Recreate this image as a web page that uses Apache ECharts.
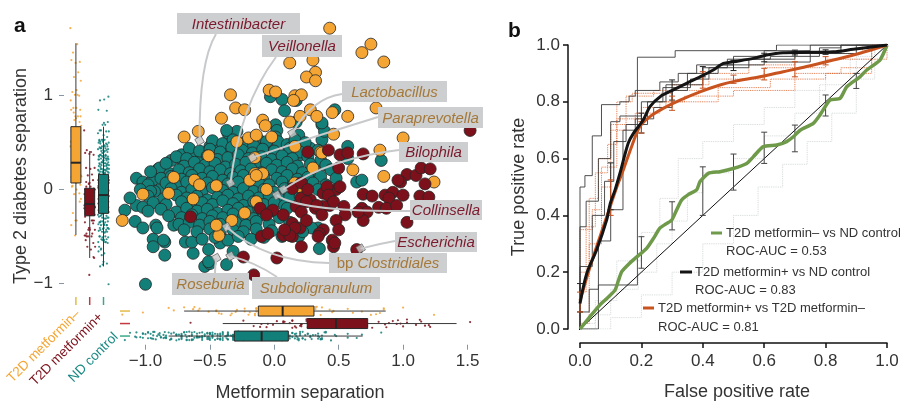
<!DOCTYPE html>
<html>
<head>
<meta charset="utf-8">
<script src="https://cdn.jsdelivr.net/npm/echarts@6/dist/echarts.min.js"></script>
<style>
html, body { margin: 0; padding: 0; background: #fff; }
#main { width: 906px; height: 401px; }
</style>
</head>
<body>
<div id="main"></div>
<script>
// ---- panel a data (metformin separation, T2D separation) ----
var groups = ['T2D metformin–', 'T2D metformin+', 'ND control'];

var orangePts = [
  [0.43,1.72],[0.75,1.55],[0.68,1.46],[0.85,1.36],[0.12,1.35],[0.30,1.38],[0.32,1.25],[0.25,1.20],
  [0.32,1.16],[-0.04,1.06],[0.01,1.04],[0.16,1.00],[0.21,1.01],[0.15,0.95],[-0.34,1.01],[-0.30,0.87],
  [-0.23,0.85],[-0.41,0.76],[-0.59,0.62],[-0.70,0.56],[-0.09,0.74],[-0.07,0.68],[-0.20,0.55],[-0.14,0.58],
  [0.12,0.72],[0.20,0.78],[0.28,0.85],[0.33,0.78],[0.45,0.82],[0.57,0.78],[0.79,0.87],[0.46,0.59],
  [1.00,0.55],[0.82,0.42],[0.16,0.46],[0.36,0.40],[-0.51,0.36],[-0.02,0.56],[-0.15,0.34],
  [-0.78,0.13],[-0.62,0.10],[-1.02,-0.05],[-0.63,-0.10],[-1.18,-0.33],[-0.45,0.04],[-0.82,-0.04],
  [-0.43,-0.49],[-0.29,0.51],[-0.15,0.17],[-0.09,0.17],[-0.58,0.05],[0.16,0.07],[0.19,0.03],
  [0.37,0.39],[0.61,0.21],[0.85,0.14],[1.24,0.08],[-0.23,-0.25],[-0.14,-0.13],[-0.33,-0.33],
  [-0.45,-0.38],[0.30,0.23],[-0.19,0.10],[-0.14,0.15],[-0.06,0.00]
];

var redPts = [
  [1.52,0.63],[0.26,0.40],[0.42,0.42],[0.51,0.37],[0.69,0.38],[0.57,0.39],
  [1.03,0.16],[1.10,0.15],[1.14,0.23],[1.21,0.22],[0.98,0.08],[0.96,0.10],[1.17,0.06],[0.69,-0.05],
  [0.76,-0.07],[0.86,-0.06],[0.92,-0.03],[1.00,-0.06],[0.89,-0.09],[1.13,-0.07],[1.20,-0.08],
  [0.81,-0.19],[0.87,-0.20],[0.95,-0.17],[0.68,-0.20],[0.72,-0.24],[1.03,-0.35],[0.69,-0.33],
  [0.65,-0.24],[0.54,-0.18],[0.55,-0.27],[0.43,-0.17],[0.38,-0.18],[0.28,-0.11],[0.32,-0.20],
  [0.17,-0.18],[0.21,-0.09],[0.14,0.01],[0.21,0.07],[0.26,0.00],[0.38,-0.04],[0.43,-0.06],
  [0.48,0.00],[0.41,0.03],[0.51,0.03],[0.14,-0.36],[0.20,-0.41],[0.07,-0.49],[0.14,-0.50],
  [0.21,-0.61],[0.02,-0.73],[0.38,-0.43],[0.45,-0.54],[0.48,-0.33],[0.50,-0.43],[0.46,-0.61],
  [0.64,-0.64],[-0.10,-0.50],[-0.24,-0.72],[-0.16,-0.91],[-0.65,-0.29],[0.25,-0.13],[-0.01,-0.22],
  [0.07,-0.27],[-0.11,-0.20],[0.50,0.23],[0.42,-0.06],[0.46,-0.13],[0.33,-0.17],[0.37,-0.27],
  [0.21,-0.24],[0.25,-0.33],[0.16,-0.41],[0.12,-0.49],[0.35,-0.47],[0.34,-0.50],[0.08,-0.43],
  [-0.06,-0.27],[-0.05,-0.47],[0.47,-0.57]
];

var tealOuter = [
  [-0.36,0.60],[-0.50,0.46],[-0.42,0.44],[-0.36,0.46],[-0.80,0.31],[-0.72,0.32],[-0.62,0.36],[-0.59,0.29],
  [-0.03,0.99],[0.06,0.96],[0.17,0.95],[0.08,0.84],[0.37,0.69],[0.47,0.85],[0.01,0.69],[0.02,0.63],
  [0.17,0.72],[0.19,0.58],[0.37,0.53],[0.39,0.62],[0.57,0.46],[-0.29,0.62],[-0.12,0.53],[-0.06,0.49],
  [0.01,0.56],[0.03,0.51],[0.08,0.36],[0.20,0.37],[0.28,0.44],[0.57,0.33],[0.37,0.71],[-0.37,0.63],
  [0.83,0.31],[0.64,0.08],[0.68,0.10],[-1.16,-0.22],[-1.08,-0.34],[-1.02,-0.41],[-0.94,-0.53],
  [-0.94,-0.61],[-0.85,-0.56],[-0.85,-0.70],[-1.00,-1.01],[-0.63,-0.68],[-0.54,-0.82],[-0.50,-0.79],
  [-0.37,-0.80],[-0.32,-0.66],[0.19,-0.50],[0.35,-0.63],[0.34,-0.41],[0.29,-0.41],[0.06,-0.50],
  [-1.07,0.12],[-1.02,0.08],[-0.90,0.22],[-0.81,0.17],[-0.72,0.37],[-0.89,0.23],[-0.95,0.09],
  [-0.89,0.00],[-0.93,-0.02],[-1.07,-0.17],[-1.02,-0.19],[-0.92,-0.38],[-0.91,-0.41],[-0.78,-0.38],
  [-0.86,-0.54],[-0.69,-0.56],[-0.64,-0.56],[-0.51,-0.64],[-0.42,-0.57],[-0.51,-0.77]
];

// dense core of the ND control cloud
var tealCore = [
  [-0.48,0.52],[-0.40,0.49],[-0.32,0.53],[-0.24,0.50],[-0.16,0.47],[-0.06,0.51],[0.10,0.48],[0.16,0.53],[0.24,0.50],
  [-0.66,0.44],[-0.58,0.41],[-0.50,0.43],[-0.42,0.40],[-0.33,0.45],[-0.25,0.42],[-0.17,0.39],[-0.09,0.43],[0.00,0.41],[0.12,0.44],[0.20,0.40],[0.34,0.42],
  [-0.76,0.35],[-0.68,0.33],[-0.52,0.36],[-0.44,0.32],[-0.36,0.34],[-0.28,0.37],[-0.20,0.33],[-0.10,0.35],[-0.02,0.32],[0.06,0.36],[0.14,0.33],[0.26,0.35],[0.36,0.31],
  [-0.84,0.28],[-0.70,0.25],[-0.62,0.29],[-0.54,0.26],[-0.46,0.28],[-0.38,0.24],[-0.30,0.27],[-0.22,0.29],[-0.14,0.25],[-0.06,0.28],[0.02,0.26],[0.10,0.29],[0.18,0.25],[0.28,0.27],[0.40,0.26],
  [-0.96,0.19],[-0.74,0.21],[-0.66,0.18],[-0.58,0.22],[-0.50,0.19],[-0.42,0.21],[-0.34,0.17],[-0.26,0.20],[-0.18,0.22],[-0.10,0.18],[-0.02,0.21],[0.06,0.19],[0.14,0.22],[0.22,0.18],[0.32,0.20],[0.44,0.21],
  [-0.88,0.12],[-0.80,0.14],[-0.72,0.11],[-0.64,0.15],[-0.56,0.12],[-0.48,0.14],[-0.40,0.10],[-0.32,0.13],[-0.24,0.15],[-0.16,0.11],[-0.08,0.14],[0.02,0.12],[0.10,0.15],[0.18,0.11],[0.26,0.13],[0.36,0.14],[0.48,0.12],
  [-0.98,0.05],[-0.84,0.07],[-0.76,0.04],[-0.68,0.08],[-0.60,0.05],[-0.52,0.07],[-0.44,0.03],[-0.36,0.06],[-0.28,0.08],[-0.20,0.04],[-0.12,0.07],[-0.04,0.05],[0.06,0.08],[0.14,0.04],[0.22,0.06],[0.30,0.07],[0.40,0.05],
  [-1.04,0.00],[-0.96,-0.02],[-0.80,0.01],[-0.72,-0.03],[-0.64,0.00],[-0.56,-0.02],[-0.48,0.02],[-0.40,-0.01],[-0.32,-0.03],[-0.24,0.01],[-0.16,-0.02],[-0.08,0.00],[0.00,-0.03],[0.08,0.01],[0.16,-0.01],[0.24,-0.02],[0.34,0.00],
  [-1.12,-0.09],[-0.98,-0.07],[-0.86,-0.10],[-0.76,-0.06],[-0.68,-0.09],[-0.60,-0.07],[-0.52,-0.11],[-0.44,-0.08],[-0.36,-0.06],[-0.28,-0.10],[-0.20,-0.07],[-0.12,-0.09],[-0.04,-0.06],[0.04,-0.10],[0.12,-0.08],[0.20,-0.07],
  [-0.94,-0.14],[-0.84,-0.16],[-0.72,-0.13],[-0.64,-0.17],[-0.56,-0.14],[-0.48,-0.16],[-0.40,-0.12],[-0.32,-0.15],[-0.24,-0.17],[-0.16,-0.13],[-0.08,-0.16],[0.00,-0.14],[0.08,-0.17],
  [-0.98,-0.23],[-0.88,-0.21],[-0.76,-0.24],[-0.68,-0.20],[-0.60,-0.23],[-0.52,-0.21],[-0.44,-0.25],[-0.36,-0.22],[-0.28,-0.20],[-0.20,-0.24],[-0.12,-0.21],[-0.02,-0.23],[0.10,-0.20],
  [-0.82,-0.28],[-0.72,-0.30],[-0.64,-0.27],[-0.56,-0.31],[-0.48,-0.28],[-0.40,-0.30],[-0.32,-0.26],[-0.24,-0.29],[-0.16,-0.31],[-0.08,-0.27],[0.04,-0.30],
  [-0.74,-0.37],[-0.66,-0.35],[-0.58,-0.38],[-0.50,-0.34],[-0.42,-0.37],[-0.30,-0.35],[-0.22,-0.38],[-0.14,-0.34],[-0.04,-0.37],[0.12,-0.35],
  [-0.70,-0.43],[-0.60,-0.45],[-0.50,-0.42],[-0.42,-0.46],[-0.32,-0.43],[-0.24,-0.45],[-0.14,-0.42],[-0.02,-0.44],[0.22,-0.45],
  [-0.56,-0.53],[-0.46,-0.51],[-0.36,-0.54],[-0.28,-0.50],[-0.18,-0.53],[-0.08,-0.51]
];

// box plots: [min, q1, median, q3, max]
var vertBox = [[-0.485,0.07,0.286,0.67,1.56], [-0.73,-0.28,-0.155,0.013,0.41], [-0.82,-0.254,-0.059,0.162,0.67]];
var horizBox = [[-0.70,-0.124,0.065,0.308,0.865], [-0.40,0.256,0.479,0.725,1.415], [-0.82,-0.31,-0.098,0.109,0.686]];

var genera = [
  {name:'Intestinibacter', x:-0.58, y:0.52, c:1},
  {name:'Veillonella', x:-0.34, y:0.07, c:1},
  {name:'Lactobacillus', x:0.14, y:0.60, c:0},
  {name:'Paraprevotella', x:-0.17, y:0.34, c:0},
  {name:'Bilophila', x:0.07, y:0.00, c:1},
  {name:'Collinsella', x:0.02, y:-0.06, c:1},
  {name:'Escherichia', x:0.67, y:-0.63, c:1},
  {name:'bp Clostridiales', x:-0.37, y:-0.40, c:0},
  {name:'Roseburia', x:-0.45, y:-0.73, c:0},
  {name:'Subdoligranulum', x:-0.34, y:-0.71, c:0}
];

var xTicksA = [-1, -0.5, 0, 0.5, 1, 1.5];
var yTicksA = [-1, 0, 1];

// ---- panel b data (ROC) ----
var rocGreen = [[0,0],[0.03,0.04],[0.065,0.085],[0.09,0.11],[0.114,0.137],[0.125,0.17],[0.136,0.202],[0.16,0.23],
  [0.185,0.254],[0.217,0.284],[0.24,0.32],[0.26,0.355],[0.28,0.37],[0.299,0.384],[0.315,0.42],[0.331,0.454],
  [0.355,0.475],[0.38,0.49],[0.391,0.519],[0.418,0.548],[0.456,0.554],[0.499,0.565],[0.543,0.583],[0.565,0.607],
  [0.597,0.642],[0.641,0.648],[0.673,0.66],[0.695,0.677],[0.717,0.70],[0.76,0.724],[0.782,0.754],[0.814,0.806],
  [0.847,0.812],[0.869,0.853],[0.912,0.888],[0.934,0.912],[0.977,0.947],[1,1]];
var rocBlack = [[0,0.09],[0.022,0.196],[0.054,0.278],[0.087,0.384],[0.098,0.44],[0.114,0.489],[0.13,0.548],
  [0.157,0.654],[0.174,0.689],[0.206,0.736],[0.228,0.783],[0.261,0.818],[0.304,0.842],[0.347,0.865],[0.391,0.888],
  [0.434,0.912],[0.467,0.935],[0.499,0.941],[0.565,0.953],[0.608,0.965],[0.662,0.973],[0.717,0.974],[0.825,0.976],
  [0.89,0.985],[1,1]];
var rocOrange = [[0,0.10],[0.033,0.22],[0.065,0.325],[0.098,0.43],[0.12,0.5],[0.141,0.56],[0.168,0.642],
  [0.195,0.713],[0.228,0.748],[0.271,0.777],[0.326,0.806],[0.391,0.835],[0.456,0.859],[0.499,0.871],[0.586,0.888],
  [0.662,0.906],[0.738,0.924],[0.825,0.947],[0.912,0.971],[1,1]];
var rocDiag = [[-0.045,-0.045],[1.04,1.04]];

var foldsBlack = [
  [[0,0],[0,0.5],[0.016,0.5],[0.016,0.54],[0.04,0.54],[0.04,0.68],[0.07,0.68],[0.07,0.79],[0.13,0.79],[0.13,0.8],[0.16,0.8],[0.16,0.82],[0.18,0.82],[0.18,0.84],[0.26,0.84],[0.26,0.87],[0.32,0.87],[0.32,0.9],[0.38,0.9],[0.38,0.93],[0.5,0.93],[0.5,0.96],[0.6,0.96],[0.6,0.98],[0.75,0.98],[0.75,1],[1,1]],
  [[0,0],[0,0.36],[0.02,0.36],[0.02,0.45],[0.06,0.45],[0.06,0.6],[0.1,0.6],[0.1,0.73],[0.13,0.73],[0.13,0.75],[0.2,0.75],[0.2,0.8],[0.27,0.8],[0.27,0.85],[0.36,0.85],[0.36,0.88],[0.42,0.88],[0.42,0.92],[0.55,0.92],[0.55,0.95],[0.7,0.95],[0.7,0.97],[0.85,0.97],[0.85,1],[1,1]],
  [[0,0],[0,0.06],[0.03,0.06],[0.03,0.14],[0.06,0.14],[0.06,0.31],[0.1,0.31],[0.1,0.42],[0.14,0.42],[0.14,0.7],[0.18,0.7],[0.18,0.74],[0.24,0.74],[0.24,0.78],[0.3,0.78],[0.3,0.84],[0.35,0.84],[0.35,0.9],[0.45,0.9],[0.45,0.93],[0.6,0.93],[0.6,0.94],[0.75,0.94],[0.75,0.97],[0.9,0.97],[0.9,1],[1,1]],
  [[0,0],[0,0.22],[0.04,0.22],[0.04,0.4],[0.08,0.4],[0.08,0.52],[0.11,0.52],[0.11,0.66],[0.15,0.66],[0.15,0.72],[0.22,0.72],[0.22,0.8],[0.28,0.8],[0.28,0.86],[0.4,0.86],[0.4,0.92],[0.48,0.92],[0.48,0.95],[0.62,0.95],[0.62,0.96],[0.78,0.96],[0.78,0.99],[0.85,0.99],[0.85,1],[1,1]],
  [[0,0],[0.06,0],[0.06,0.155],[0.187,0.155],[0.187,0.957],[0.31,0.957],[0.31,0.98],[0.64,0.98],[0.64,1],[1,1]]
];
var foldsOrange = [
  [[0,0],[0,0.13],[0.02,0.13],[0.02,0.36],[0.05,0.36],[0.05,0.55],[0.09,0.55],[0.09,0.65],[0.12,0.65],[0.12,0.8],[0.17,0.8],[0.17,0.83],[0.3,0.83],[0.3,0.86],[0.42,0.86],[0.42,0.88],[0.6,0.88],[0.6,0.92],[0.8,0.92],[0.8,0.95],[1,0.95],[1,1]],
  [[0,0],[0,0.02],[0.03,0.02],[0.03,0.3],[0.07,0.3],[0.07,0.5],[0.1,0.5],[0.1,0.72],[0.18,0.72],[0.18,0.76],[0.26,0.76],[0.26,0.8],[0.34,0.8],[0.34,0.82],[0.5,0.82],[0.5,0.84],[0.7,0.84],[0.7,0.9],[0.85,0.9],[0.85,0.92],[0.95,0.92],[0.95,1],[1,1]],
  [[0,0],[0,0.2],[0.03,0.2],[0.03,0.46],[0.06,0.46],[0.06,0.6],[0.1,0.6],[0.1,0.7],[0.15,0.7],[0.15,0.82],[0.24,0.82],[0.24,0.84],[0.4,0.84],[0.4,0.9],[0.55,0.9],[0.55,0.93],[0.7,0.93],[0.7,0.97],[0.92,0.97],[0.92,1],[1,1]],
  [[0,0],[0,0.35],[0.04,0.35],[0.04,0.42],[0.07,0.42],[0.07,0.57],[0.12,0.57],[0.12,0.74],[0.2,0.74],[0.2,0.78],[0.28,0.78],[0.28,0.8],[0.45,0.8],[0.45,0.85],[0.62,0.85],[0.62,0.88],[0.8,0.88],[0.8,0.9],[0.95,0.9],[0.95,1],[1,1]]
];
var foldsGrey = [
  [[0,0],[0,0.02],[0.05,0.02],[0.05,0.05],[0.1,0.05],[0.1,0.14],[0.19,0.14],[0.19,0.2],[0.25,0.2],[0.25,0.3],[0.3,0.3],[0.3,0.38],[0.35,0.38],[0.35,0.48],[0.4,0.48],[0.4,0.55],[0.5,0.55],[0.5,0.6],[0.6,0.6],[0.6,0.68],[0.7,0.68],[0.7,0.76],[0.78,0.76],[0.78,0.86],[0.88,0.86],[0.88,0.95],[0.95,0.95],[0.95,1],[1,1]],
  [[0,0],[0.05,0],[0.05,0.1],[0.12,0.1],[0.12,0.24],[0.2,0.24],[0.2,0.34],[0.26,0.34],[0.26,0.46],[0.32,0.46],[0.32,0.6],[0.4,0.6],[0.4,0.66],[0.5,0.66],[0.5,0.72],[0.6,0.72],[0.6,0.78],[0.7,0.78],[0.7,0.84],[0.8,0.84],[0.8,0.9],[0.9,0.9],[0.9,0.96],[0.96,0.96],[0.96,1],[1,1]],
  [[0,0],[0.1,0],[0.1,0.04],[0.2,0.04],[0.2,0.12],[0.3,0.12],[0.3,0.2],[0.4,0.2],[0.4,0.3],[0.5,0.3],[0.5,0.4],[0.58,0.4],[0.58,0.5],[0.66,0.5],[0.66,0.58],[0.74,0.58],[0.74,0.66],[0.82,0.66],[0.82,0.76],[0.9,0.76],[0.9,0.88],[0.96,0.88],[0.96,1],[1,1]]
];

// error bars: [fpr, low, high]
var errGreen = [[0.2,0.214,0.325],[0.3,0.349,0.448],[0.4,0.40,0.571],[0.5,0.489,0.616],[0.6,0.583,0.693],[0.7,0.624,0.718],[0.8,0.75,0.824],[0.9,0.847,0.90]];
var errBlack = [[0,0.06,0.16],[0.1,0.42,0.585],[0.2,0.69,0.76],[0.3,0.806,0.877],[0.4,0.888,0.924],[0.5,0.91,0.946],[0.6,0.941,0.971],[0.7,0.965,0.982],[0.8,0.967,0.983]];
var errOrange = [[0,0.06,0.13],[0.1,0.40,0.525],[0.2,0.69,0.73],[0.3,0.77,0.82],[0.4,0.848,0.906],[0.5,0.865,0.894],[0.6,0.877,0.918],[0.7,0.888,0.941],[0.8,0.93,0.959]];

// ---------------------------------------------------------------
var FONT = 'Liberation Sans, Arial, sans-serif';
var COL = ['#f4a534', '#7c111b', '#137f79'];
var TICK = ['#e3bb48', '#c23a40', '#3aa98a'];
var GOLD = '#a5793a', WINE = '#7b1a2d';

var tealPts = tealOuter.concat(tealCore);
var groupPts = [orangePts, redPts, tealPts];

function minus(s) { return String(s).replace('-', '−'); }
function jit(k) { return ((k * 0.6180339) % 1) - 0.5; }

var chart = echarts.init(document.getElementById('main'));

function boxItem(horizontal) {
  return function (params, api) {
    var i = api.value(0);
    var pt = function (v) { return horizontal ? api.coord([v, i]) : api.coord([i, v]); };
    var a = pt(api.value(1)), b = pt(api.value(2)), m = pt(api.value(3)), c = pt(api.value(4)), d = pt(api.value(5));
    var h = 5, kids = [];
    kids.push({type:'line', shape:{x1:a[0], y1:a[1], x2:d[0], y2:d[1]}, style:{stroke:'#3a3a3a', lineWidth:1}});
    if (horizontal) {
      kids.push({type:'rect', shape:{x:b[0], y:b[1]-h, width:c[0]-b[0], height:2*h}, style:{fill:COL[i], stroke:'#262626', lineWidth:1}});
      kids.push({type:'line', shape:{x1:m[0], y1:m[1]-h, x2:m[0], y2:m[1]+h}, style:{stroke:'#262626', lineWidth:2}});
    } else {
      kids.push({type:'rect', shape:{x:b[0]-h, y:c[1], width:2*h, height:b[1]-c[1]}, style:{fill:COL[i], stroke:'#262626', lineWidth:1}});
      kids.push({type:'line', shape:{x1:m[0]-h, y1:m[1], x2:m[0]+h, y2:m[1]}, style:{stroke:'#262626', lineWidth:2}});
    }
    return {type:'group', children:kids};
  };
}

function errItem(color) {
  return function (params, api) {
    var lo = api.coord([api.value(0), api.value(1)]), hi = api.coord([api.value(0), api.value(2)]);
    return {type:'group', children:[
      {type:'line', shape:{x1:lo[0], y1:lo[1], x2:hi[0], y2:hi[1]}, style:{stroke:color, lineWidth:1}},
      {type:'line', shape:{x1:lo[0]-3, y1:lo[1], x2:lo[0]+3, y2:lo[1]}, style:{stroke:color, lineWidth:1}},
      {type:'line', shape:{x1:hi[0]-3, y1:hi[1], x2:hi[0]+3, y2:hi[1]}, style:{stroke:color, lineWidth:1}}
    ]};
  };
}

var series = [];

// marginal jitter dots
groupPts.forEach(function (pts, g) {
  series.push({type:'scatter', xAxisIndex:1, yAxisIndex:1, symbolSize:2.2, silent:true,
    itemStyle:{color:COL[g], opacity:0.85},
    data: pts.map(function (p, k) { return [g + jit(k) * 0.8, p[1]]; })});
  series.push({type:'scatter', xAxisIndex:2, yAxisIndex:2, symbolSize:2.2, silent:true,
    itemStyle:{color:COL[g], opacity:0.85},
    data: pts.map(function (p, k) { return [p[0], g + jit(k + 7) * 0.7]; })});
});
series.push({type:'custom', xAxisIndex:1, yAxisIndex:1, renderItem:boxItem(false), z:5,
  data: vertBox.map(function (b, i) { return [i].concat(b); })});
series.push({type:'custom', xAxisIndex:2, yAxisIndex:2, renderItem:boxItem(true), z:5,
  data: horizBox.map(function (b, i) { return [i].concat(b); })});

// main scatter: teal first, then orange, then red
[[tealPts, 2], [orangePts, 0], [redPts, 1]].forEach(function (s) {
  series.push({type:'scatter', xAxisIndex:0, yAxisIndex:0, symbolSize:12, silent:true,
    itemStyle:{color:COL[s[1]], borderColor:'#262626', borderWidth:0.8, opacity:1},
    data:s[0]});
});
series.push({type:'scatter', xAxisIndex:0, yAxisIndex:0, symbol:'rect', symbolSize:7, symbolRotate:30, silent:true, z:6,
  itemStyle:{color:'#c9c9c9', borderColor:'#555', borderWidth:0.8},
  data: genera.map(function (g) { return [g.x, g.y]; })});

// ROC panel
function roc(data, style, z) {
  return {type:'line', xAxisIndex:3, yAxisIndex:3, showSymbol:false, silent:true, z:z || 2,
    data:data, lineStyle:style};
}
foldsGrey.forEach(function (f) { series.push(roc(f, {color:'#cfd2d4', width:0.9, type:'dotted'})); });
foldsOrange.forEach(function (f) { series.push(roc(f, {color:'#e0652f', width:0.9, type:'dotted'})); });
foldsBlack.forEach(function (f) { series.push(roc(f, {color:'#3c3c3c', width:0.9})); });
var diag = roc(rocDiag, {color:'#111', width:1}, 3); diag.clip = false; series.push(diag);
series.push({type:'custom', xAxisIndex:3, yAxisIndex:3, renderItem:errItem('#444'), data:errGreen, z:4});
series.push({type:'custom', xAxisIndex:3, yAxisIndex:3, renderItem:errItem('#222'), data:errBlack, z:4});
series.push({type:'custom', xAxisIndex:3, yAxisIndex:3, renderItem:errItem('#c8501e'), data:errOrange, z:4});
var g1 = roc(rocGreen, {color:'#6e9a4a', width:3.5}, 5); g1.smooth = 0.2; series.push(g1);
var o1 = roc(rocOrange, {color:'#c9531f', width:3}, 5); o1.smooth = 0.3; series.push(o1);
var b1 = roc(rocBlack, {color:'#141414', width:3}, 6); b1.smooth = 0.3; series.push(b1);

var tickA = {color:'#8796a5', width:1};
var option = {
  animation: false,
  backgroundColor: '#fff',
  grid: [
    {left:119.7, top:20.7, width:360.7, height:272},
    {left:69, top:20.7, width:41.4, height:272},
    {left:119.7, top:304.8, width:360.7, height:37.5},
    {left:580, top:45, width:307, height:284}
  ],
  xAxis: [
    {gridIndex:0, type:'value', min:-1.2, max:1.6, offset:52,
      axisLine:{show:false, onZero:false},
      axisTick:{show:true, length:5, customValues:xTicksA, lineStyle:tickA},
      axisLabel:{customValues:xTicksA, margin:8, fontSize:17, color:'#333', fontFamily:FONT,
        formatter:function (v) { return minus(v.toFixed(1)); }},
      splitLine:{show:false}},
    {gridIndex:1, type:'value', min:-0.5, max:2.5, show:false},
    {gridIndex:2, type:'value', min:-1.2, max:1.6, show:false},
    {gridIndex:3, type:'value', min:0, max:1, interval:0.2, offset:14,
      axisLine:{onZero:false, lineStyle:{color:'#111', width:1.5}},
      axisTick:{length:5, lineStyle:{color:'#111', width:1.5}},
      axisLabel:{margin:10, fontSize:17, color:'#333', fontFamily:FONT,
        formatter:function (v) { return v.toFixed(1); }},
      splitLine:{show:false}}
  ],
  yAxis: [
    {gridIndex:0, type:'value', min:-1.1, max:1.8, offset:55.7,
      axisLine:{show:false, onZero:false},
      axisTick:{show:true, length:5, customValues:yTicksA, lineStyle:tickA},
      axisLabel:{customValues:yTicksA, margin:11, fontSize:17, color:'#333', fontFamily:FONT,
        formatter:function (v) { return minus(v); }},
      splitLine:{show:false}},
    {gridIndex:1, type:'value', min:-1.1, max:1.8, show:false},
    {gridIndex:2, type:'value', min:-0.5, max:2.5, inverse:true, show:false},
    {gridIndex:3, type:'value', min:0, max:1, interval:0.2, offset:12,
      axisLine:{onZero:false, lineStyle:{color:'#111', width:1.5}},
      axisTick:{length:5, lineStyle:{color:'#111', width:1.5}},
      axisLabel:{margin:8, fontSize:17, color:'#333', fontFamily:FONT,
        formatter:function (v) { return v.toFixed(1); }},
      splitLine:{show:false}}
  ],
  series: series
};
chart.setOption(option);

// ---- annotations ----
var labelLayout = {
  'Intestinibacter': {box:[177,13,123,21], from:[216,34], cp:[199,62]},
  'Veillonella': {box:[262,35,80,22], from:[276,57], cp:[240,105]},
  'Lactobacillus': {box:[342,81,105,21], from:[342,94], cp:[312,98]},
  'Paraprevotella': {box:[378,107,105,21], from:[378,117], cp:[315,136]},
  'Bilophila': {box:[399,142,69,20], from:[399,150], cp:[330,158]},
  'Collinsella': {box:[410,200,72,20], from:[410,211], cp:[300,212]},
  'Escherichia': {box:[395,232,82,20], from:[395,241], cp:[378,244]},
  'bp Clostridiales': {box:[329,253,118,20], from:[329,263], cp:[265,262]},
  'Roseburia': {box:[172,273,77,22], from:[215,273], cp:[215,266]},
  'Subdoligranulum': {box:[252,277,128,22], from:[277,277], cp:[255,262]}
};

var gfx = [];
genera.forEach(function (g) {
  var L = labelLayout[g.name];
  var p = chart.convertToPixel({xAxisIndex:0, yAxisIndex:0}, [g.x, g.y]);
  gfx.push({type:'bezierCurve', z:100, silent:true,
    shape:{x1:L.from[0], y1:L.from[1], cpx1:L.cp[0], cpy1:L.cp[1], x2:p[0], y2:p[1]},
    style:{stroke:'#c8c9cb', lineWidth:2, fill:null}});
});
genera.forEach(function (g) {
  var L = labelLayout[g.name], b = L.box;
  var col = g.c === 1 ? WINE : GOLD;
  gfx.push({type:'rect', z:101, silent:true, shape:{x:b[0], y:b[1], width:b[2], height:b[3]},
    style:{fill:'#cdcecf'}});
  var t = g.name.indexOf('bp ') === 0 ? '{n|bp }{i|' + g.name.slice(3) + '}' : '{i|' + g.name + '}';
  gfx.push({type:'text', z:102, silent:true, x:b[0] + b[2] / 2, y:b[1] + b[3] / 2 + 1,
    style:{text:t, align:'center', verticalAlign:'middle',
      rich:{i:{fontStyle:'italic', fontSize:15, fontFamily:FONT, fill:col, color:col},
            n:{fontSize:15, fontFamily:FONT, fill:col, color:col}}}});
});

function txt(x, y, s, o) {
  var e = {type:'text', z:103, silent:true, x:x, y:y,
    style:{text:s, fontFamily:FONT, fontSize:o.size || 17, fill:o.color || '#333',
      fontWeight:o.weight || 'normal', align:o.align || 'left', verticalAlign:o.va || 'middle'}};
  if (o.rot) e.rotation = o.rot;
  return e;
}
function seg(x1, y1, x2, y2, color, w) {
  return {type:'line', z:103, silent:true, shape:{x1:x1, y1:y1, x2:x2, y2:y2}, style:{stroke:color, lineWidth:w}};
}

gfx.push(txt(14, 26, 'a', {size:21, weight:'bold', color:'#111'}));
gfx.push(txt(508, 31, 'b', {size:21, weight:'bold', color:'#111'}));
gfx.push(txt(21, 176, 'Type 2 diabetes separation', {size:18, align:'center', rot:Math.PI / 2}));
gfx.push(txt(300, 393, 'Metformin separation', {size:18, align:'center'}));
gfx.push(txt(519, 187, 'True positive rate', {size:18, align:'center', rot:Math.PI / 2}));
gfx.push(txt(737, 392, 'False positive rate', {size:18, align:'center'}));

// group labels and coloured category ticks
gfx.push(txt(78, 312, groups[0], {size:13.5, color:COL[0], align:'right', rot:Math.PI / 4}));
gfx.push(txt(101, 315, groups[1], {size:13.5, color:COL[1], align:'right', rot:Math.PI / 4}));
gfx.push(txt(116, 335, groups[2], {size:13.5, color:'#1a8a84', align:'right', rot:Math.PI / 4}));
[0, 1, 2].forEach(function (i) {
  var v = chart.convertToPixel({xAxisIndex:1, yAxisIndex:1}, [i, 0]);
  gfx.push(seg(v[0], 297, v[0], 305, TICK[i], 1.5));
  var h = chart.convertToPixel({xAxisIndex:2, yAxisIndex:2}, [0, i]);
  gfx.push(seg(120, h[1], 130, h[1], TICK[i], 1.5));
});

// ROC legend
gfx.push(seg(711, 233, 722, 233, '#6e9a4a', 3));
gfx.push(txt(726, 233, 'T2D metformin– vs ND control', {size:13}));
gfx.push(txt(726, 251, 'ROC-AUC = 0.53', {size:13}));
gfx.push(seg(680, 272, 692, 272, '#141414', 3));
gfx.push(txt(695, 272, 'T2D metformin+ vs ND control', {size:13}));
gfx.push(txt(695, 290, 'ROC-AUC = 0.83', {size:13}));
gfx.push(seg(643, 308, 654, 308, '#c9531f', 3));
gfx.push(txt(658, 308, 'T2D metformin+ vs T2D metformin–', {size:13}));
gfx.push(txt(658, 327, 'ROC-AUC = 0.81', {size:13}));

chart.setOption({graphic: gfx});
</script>
</body>
</html>
